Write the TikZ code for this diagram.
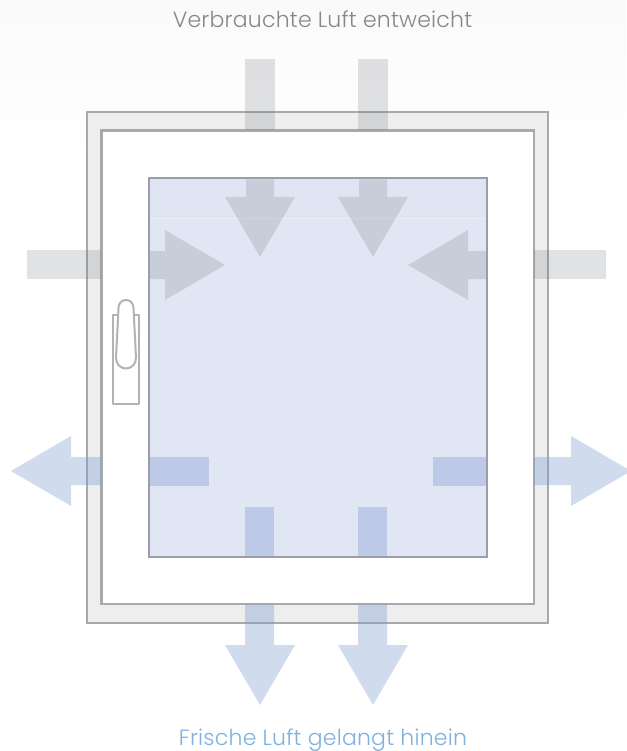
\documentclass[tikz,border=0pt]{standalone}
\usepackage{fontspec}
\setmainfont{Poppins}[UprightFont={* Light},LetterSpace=1.0]
\definecolor{frameline}{HTML}{A8A9AC}
\definecolor{framefill}{HTML}{EEEEEE}
\definecolor{glassline}{HTML}{9A9EA8}
\definecolor{glassfill}{HTML}{E0E6F3}
\definecolor{glasstop}{HTML}{DFE5F2}
\definecolor{handleline}{HTML}{B2B3B6}
\definecolor{graytext}{HTML}{85878A}
\definecolor{bluetext}{HTML}{7FB0E0}
\definecolor{grayair}{RGB}{107,111,117}
\definecolor{blueair}{RGB}{121,152,209}
\tikzset{
  frameshape/.style={draw=frameline,line width=2.2pt,fill=framefill},
  sashshape/.style={draw=frameline,line width=2.2pt,fill=white},
  glassshape/.style={draw=glassline,line width=2pt,fill=glassfill},
  grayflow/.style={fill=grayair,fill opacity=.2,draw=none},
  blueflow/.style={fill=blueair,fill opacity=.35,draw=none},
  handleshape/.style={draw=handleline,line width=2pt,fill=white,line join=round},
  caption/.style={font=\fontsize{22}{26}\selectfont,inner sep=0pt,anchor=base}
}
\begin{document}
\begin{tikzpicture}[x=1pt,y=-1pt]
\useasboundingbox (0,0) rectangle (626,751);
\fill[white] (0,0) rectangle (626,751);
\shade[top color=black!2,bottom color=white] (0,0) rectangle (626,165);
% frame, sash, glass
\draw[frameshape] (87,112) rectangle (548,623);
\draw[sashshape] (101.5,130.5) rectangle (534,604);
\draw[glassshape] (149,178.5) rectangle (487,557);
\fill[glasstop] (150,179.5) rectangle (486,218);
\draw[white,opacity=.35,line width=.8pt] (150,218.5) -- (486,218.5);
% handle
\draw[handleshape] (113,315) rectangle (139,404);
\draw[handleshape] (118.5,308) .. controls (118.5,303.5) and (121.5,300) .. (126,300)
  .. controls (130.5,300) and (133.5,303.5) .. (133.5,308)
  -- (136,358) .. controls (136,364) and (131.5,368.5) .. (126,368.5)
  .. controls (120.5,368.5) and (116,364) .. (116,358) -- cycle;
% gray incoming air: top
\foreach \c in {260,373}{
  \fill[grayflow] (\c-15,59) rectangle (\c+15,130);
  \fill[grayflow] (\c-14,179.5) -- (\c+14,179.5) -- (\c+14,197) -- (\c+35,197) -- (\c,257) -- (\c-35,197) -- (\c-14,197) -- cycle;
}
% gray incoming air: sides
\fill[grayflow] (27,250) rectangle (101,279);
\fill[grayflow] (150,251) -- (165,251) -- (165,230) -- (225,265) -- (165,300) -- (165,279) -- (150,279) -- cycle;
\fill[grayflow] (534,250) rectangle (606,279);
\fill[grayflow] (486,251) -- (468,251) -- (468,230) -- (408,265) -- (468,300) -- (468,279) -- (486,279) -- cycle;
% blue outgoing air: sides
\fill[blueflow] (101,457) -- (71,457) -- (71,436) -- (11,471) -- (71,506) -- (71,485) -- (101,485) -- cycle;
\fill[blueflow] (150,457) rectangle (209,486);
\fill[blueflow] (433,457) rectangle (486,486);
\fill[blueflow] (534,457) -- (571,457) -- (571,436) -- (631,471) -- (571,506) -- (571,485) -- (534,485) -- cycle;
% blue outgoing air: bottom
\foreach \c in {260,373}{
  \fill[blueflow] (\c-15,507) rectangle (\c+14,556);
  \fill[blueflow] (\c-15,604.5) -- (\c+14,604.5) -- (\c+14,645) -- (\c+35,645) -- (\c,705) -- (\c-35,645) -- (\c-15,645) -- cycle;
}
\node[caption,text=graytext] (toplabel) at (322.5,27.3) {Verbrauchte Luft entweicht};
\node[caption,text=bluetext] (bottomlabel) at (323,745.5) {Frische Luft gelangt hinein};
\end{tikzpicture}
\end{document}
